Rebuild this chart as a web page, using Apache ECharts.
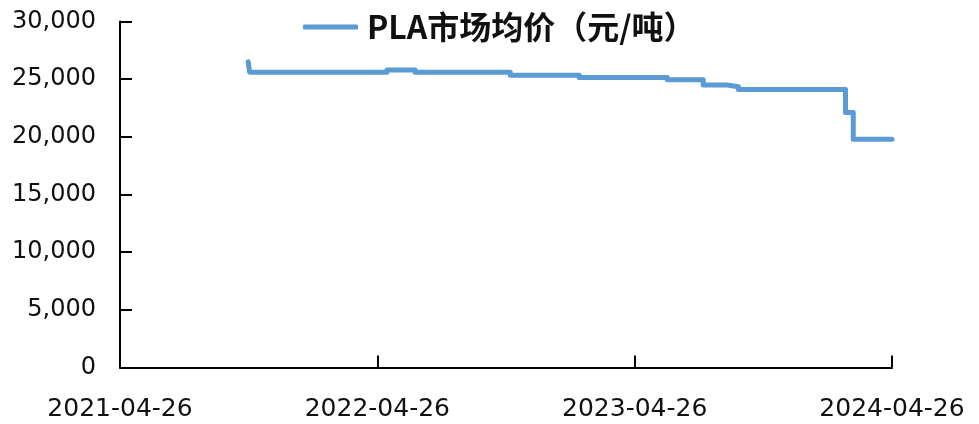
<!DOCTYPE html>
<html>
<head>
<meta charset="utf-8">
<script src="https://cdn.jsdelivr.net/npm/echarts@6/dist/echarts.min.js"></script>
<style>
  html, body { margin: 0; padding: 0; background: #fff; }
  #chart { width: 979px; height: 424px; }
</style>
</head>
<body>
<div id="chart"></div>
<script>
const seriesName = "PLA市场均价（元/吨）";

// change points of the step line (date, price in 元/吨)
const priceDates = [
  "2021-10-25", "2021-10-27", "2022-05-10", "2022-06-19", "2022-11-01",
  "2023-02-07", "2023-06-12", "2023-08-02", "2023-09-05", "2023-09-21",
  "2024-02-20", "2024-03-02", "2024-04-26",
];
const priceValues = [
  26500, 25600, 25800, 25600, 25350,
  25150, 24950, 24500, 24350, 24100,
  22100, 19800, 19800,
];

const xTickLabels = ["2021-04-26", "2022-04-26", "2023-04-26", "2024-04-26"];

const DAY = 86400000;
const toUtc = (s) => {
  const [y, m, d] = s.split("-").map(Number);
  return Date.UTC(y, m - 1, d);
};
const startTs = toUtc(xTickLabels[0]);
const endDays = (toUtc(xTickLabels[xTickLabels.length - 1]) - startTs) / DAY;
const tickStep = endDays / (xTickLabels.length - 1);

const seriesData = priceDates.map((d, i) => [(toUtc(d) - startTs) / DAY, priceValues[i]]);

const AXIS_COLOR = "#000";
const LINE_COLOR = "#5B9BD5";
const LABEL_FONT = "DejaVu Sans";

const chart = echarts.init(document.getElementById("chart"));
chart.setOption({
  animation: false,
  grid: { left: 120, right: 87, top: 21.5, bottom: 56.5, containLabel: false },
  legend: {
    top: 6,
    left: 298,
    icon: "roundRect",
    itemWidth: 55,
    itemHeight: 5,
    itemStyle: { color: LINE_COLOR, borderWidth: 0 },
    data: [seriesName],
    textStyle: {
      fontFamily: "Noto Sans CJK SC",
      fontWeight: "bold",
      fontSize: 32,
      color: "#111",
      padding: [0, 0, 0, 4],
    },
  },
  xAxis: {
    type: "value",
    min: 0,
    max: endDays,
    interval: tickStep,
    axisLine: { lineStyle: { color: AXIS_COLOR, width: 2 } },
    axisTick: { inside: true, length: 12, lineStyle: { color: AXIS_COLOR, width: 2 } },
    axisLabel: {
      margin: 29,
      showMinLabel: true,
      showMaxLabel: true,
      fontFamily: LABEL_FONT,
      fontSize: 25,
      color: "#111",
      formatter: (v) => xTickLabels[Math.round(v / tickStep)] || "",
    },
    splitLine: { show: false },
  },
  yAxis: {
    type: "value",
    min: 0,
    max: 30000,
    interval: 5000,
    axisLine: { show: true, lineStyle: { color: AXIS_COLOR, width: 2 } },
    axisTick: { show: true, inside: true, length: 12, lineStyle: { color: AXIS_COLOR, width: 2 } },
    axisLabel: {
      margin: 24,
      fontFamily: LABEL_FONT,
      fontSize: 24,
      color: "#111",
      formatter: (v) => v.toLocaleString("en-US"),
    },
    splitLine: { show: false },
  },
  series: [
    {
      name: seriesName,
      type: "line",
      step: "end",
      data: seriesData,
      symbol: "none",
      lineStyle: { color: LINE_COLOR, width: 5, cap: "round", join: "round" },
      itemStyle: { color: LINE_COLOR },
    },
  ],
});
</script>
</body>
</html>
